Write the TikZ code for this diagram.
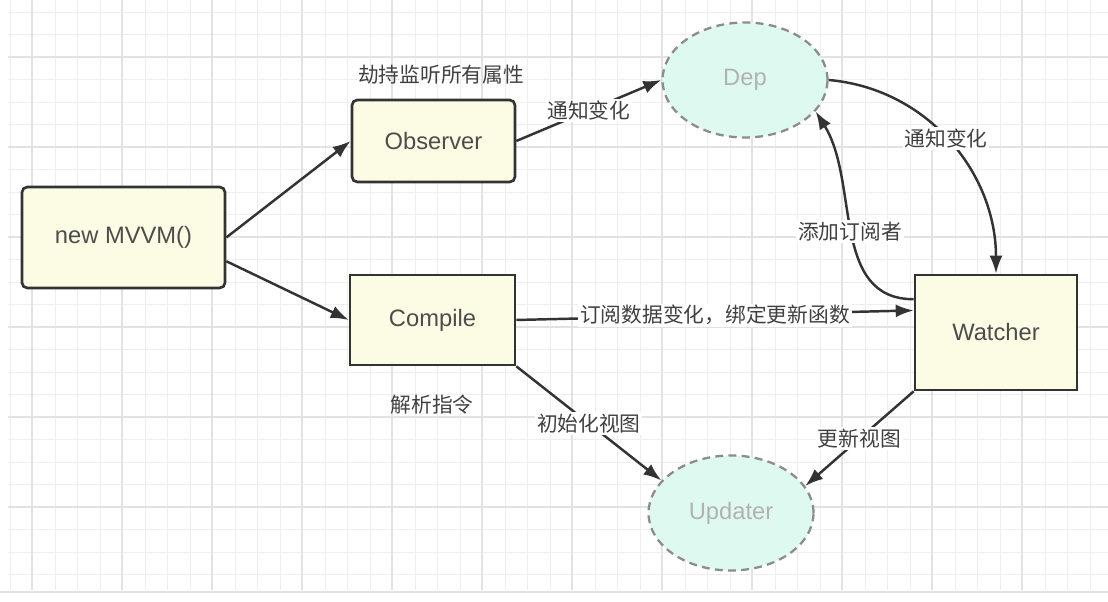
\documentclass[tikz,border=0pt]{standalone}
\usepackage{fontspec}
\setmainfont{Liberation Sans}
\newfontfamily\cjk{Noto Sans CJK SC}
\usetikzlibrary{arrows.meta}
\usetikzlibrary{shapes}

\definecolor{boxfill}{RGB}{252,252,228}
\definecolor{bubfill}{RGB}{222,249,239}
\definecolor{gridminor}{RGB}{238,238,238}
\definecolor{gridmajor}{RGB}{226,226,226}

\begin{document}
\begin{tikzpicture}[scale=1,
    box/.style={draw=black!80, line width=1.5pt, fill=boxfill, text=black!70,
        font=\fontsize{13.5}{16}\selectfont},
    bubble/.style={ellipse, draw=black!45, dash pattern=on 4.5pt off 3pt,
        line width=1.3pt, fill=bubfill, text=black!30,
        minimum width=3.3cm, minimum height=2.3cm, font=\fontsize{13.5}{16}\selectfont},
    lbl/.style={fill=white, inner sep=1pt, text=black!75,
        font=\cjk\fontsize{11.8}{14}\selectfont},
    note/.style={inner sep=1pt, text=black!75, font=\cjk\fontsize{11.8}{14}\selectfont},
    arr/.style={-{Latex[length=3.6mm,width=2.6mm]}, line width=1.4pt, draw=black!80}
]

    \useasboundingbox (0,0) rectangle (22.16,12.04);

    % Background grid
    \foreach \x in {0,...,48}
        \draw[gridminor, line width=0.5pt] ({0.2+0.45*\x},0.24) -- ({0.2+0.45*\x},12.04);
    \foreach \y in {0,...,25}
        \draw[gridminor, line width=0.5pt] (0.16,{11.8-0.45*\y}) -- (22.16,{11.8-0.45*\y});
    \foreach \x in {0,...,11}
        \draw[gridmajor, line width=0.6pt] ({0.64+1.8*\x},0.24) -- ({0.64+1.8*\x},12.04);
    \foreach \y in {1.9,3.7,5.5,7.3,9.1,10.9}
        \draw[gridmajor, line width=0.6pt] (0.16,\y) -- (22.16,\y);
    \draw[gridmajor, line width=0.8pt] (0,0.2) -- (22.16,0.2);

    % Graph nodes
    \node[box, rounded corners=3pt, minimum width=4.06cm, minimum height=2.02cm] (mvvm) at (2.47,7.29) {new MVVM()};
    \node[box, rounded corners=3pt, minimum width=3.26cm, minimum height=1.64cm] (observer) at (8.67,9.22) {Observer};
    \node[box, minimum width=3.3cm, minimum height=1.8cm] (compile) at (8.65,5.64) {Compile};
    \node[box, minimum width=3.24cm, minimum height=2.3cm] (watcher) at (19.92,5.39) {Watcher};
    \node[bubble] (dep) at (14.9,10.44) {Dep};
    \node[bubble] (updater) at (14.62,1.78) {Updater};

    % Free notes
    \node[note] (hijack) at (8.82,10.54) {劫持监听所有属性};
    \node[note] (parse) at (8.64,3.94) {解析指令};

    % Edges with labels
    \draw[arr] (mvvm.east) -- (observer.west);
    \draw[arr] (mvvm.-13) -- (compile.west);
    \draw[arr] (observer.east) to node[lbl, midway] {通知变化} (dep.west);
    \draw[arr] (compile.east) to node[lbl, midway] {订阅数据变化，绑定更新函数} (watcher.165);
    \draw[arr] (dep.east) to[out=-5, in=90] node[lbl, pos=0.48] {通知变化} (watcher.north);
    \draw[arr] (watcher.158) to[out=180, in=-58] node[lbl, pos=0.5] {添加订阅者} (dep.-24);
    \draw[arr] (compile.south east) to node[lbl, midway] {初始化视图} (updater.155);
    \draw[arr] (watcher.south west) to node[lbl, midway] {更新视图} (updater.20);

\end{tikzpicture}
\end{document}
